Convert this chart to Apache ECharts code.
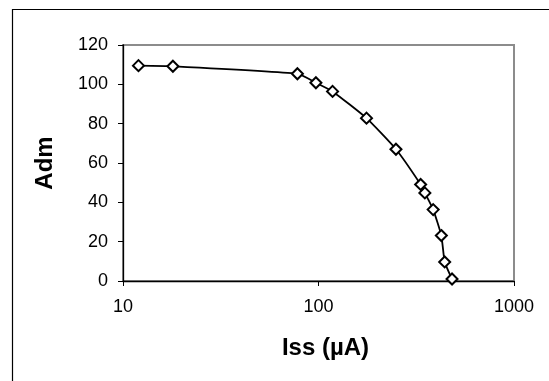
<!DOCTYPE html>
<html>
<head>
<meta charset="utf-8">
<script src="https://cdn.jsdelivr.net/npm/echarts@6/dist/echarts.min.js"></script>
<style>
html,body{margin:0;padding:0;background:#fff;}
#chart{width:549px;height:381px;}
</style>
</head>
<body>
<div id="chart"></div>
<script>
// Data
var issValues = [12.0, 18.0, 78, 97, 118, 176, 249, 333, 350, 386, 425, 442, 482];
var admValues = [109.5, 109.2, 105.4, 100.8, 96.4, 82.8, 67.0, 49.1, 44.8, 36.3, 23.1, 9.7, 1.0];
var xAxisTitle = 'Iss (µA)';
var yAxisTitle = 'Adm';

var points = issValues.map(function (x, i) { return [x, admValues[i]]; });

var chart = echarts.init(document.getElementById('chart'), null, {renderer: 'canvas'});
var font = '"Liberation Sans", Arial, sans-serif';
chart.setOption({
  animation: false,
  backgroundColor: '#ffffff',
  graphic: [{
    type: 'polyline',
    shape: {points: [[12.5, 381], [12.5, 9.5], [549, 9.5]]},
    style: {stroke: '#000', lineWidth: 1.2, fill: null},
    silent: true
  }],
  grid: {
    left: 123, right: 35, top: 45, bottom: 100,
    show: true, borderColor: '#8c8c8c', borderWidth: 2, backgroundColor: 'transparent'
  },
  xAxis: {
    type: 'log', logBase: 10, min: 10, max: 1000,
    name: xAxisTitle, nameLocation: 'middle', nameGap: 55,
    nameTextStyle: {fontFamily: font, fontSize: 24, fontWeight: 'bold', color: '#000', padding: [0, 0, 0, 14]},
    axisLine: {show: true, lineStyle: {color: '#000', width: 1.3}},
    axisTick: {show: true, inside: false, length: 5, lineStyle: {color: '#000', width: 1}},
    minorTick: {show: false},
    splitLine: {show: false},
    axisLabel: {fontFamily: font, fontSize: 18, color: '#000', margin: 17,
      formatter: function (v) { return String(Math.round(v)); }}
  },
  yAxis: {
    type: 'value', min: 0, max: 120, interval: 20,
    name: yAxisTitle, nameLocation: 'middle', nameGap: 66, nameRotate: 90,
    nameTextStyle: {fontFamily: font, fontSize: 24, fontWeight: 'bold', color: '#000'},
    axisLine: {show: true, lineStyle: {color: '#000', width: 1.3}},
    axisTick: {show: true, inside: false, length: 5, lineStyle: {color: '#000', width: 1}},
    splitLine: {show: false},
    axisLabel: {fontFamily: font, fontSize: 18, color: '#000', margin: 15}
  },
  series: [{
    type: 'line',
    data: points,
    smooth: 0.15,
    symbol: 'diamond',
    symbolSize: [11, 11],
    showAllSymbol: true,
    lineStyle: {color: '#000', width: 1.8},
    itemStyle: {color: '#fff', borderColor: '#000', borderWidth: 2},
    z: 3
  }]
});
</script>
</body>
</html>
